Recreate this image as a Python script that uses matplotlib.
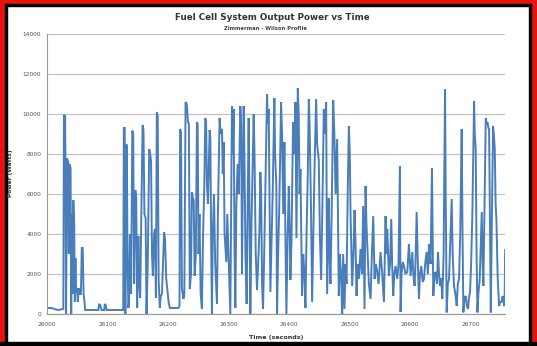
import matplotlib
matplotlib.use("Agg")
import matplotlib.pyplot as plt
from matplotlib.patches import Rectangle

# seconds after 26000 and fuel cell output power (W)
t_off = [0, 8, 12, 18, 27, 28, 30, 31.5, 33, 35, 36, 37, 39, 40, 41, 42, 43.5, 45, 46, 47,
         48, 49.5, 51, 52.5, 54, 56, 57.5, 59, 60.5, 62, 63, 85, 86, 88, 90, 94.5, 95.5, 97, 98.5,
         126, 127, 128.5, 129.5, 131, 132, 133, 134.5, 135.5, 137, 139, 141, 142.5, 144, 146,
         147.5, 149, 151, 152.5, 154, 158, 159.5, 161, 163, 164.5, 166.5, 169, 170.5, 172,
         173.5, 175, 177, 178.5, 180, 181.5, 183, 184.5, 186.5, 188, 190, 193.5, 195, 197, 199,
         201, 203, 217, 219, 220, 221.5, 223, 225.5, 227, 229, 231, 233, 234.5, 236, 238, 239.5,
         241, 242.5, 244, 246,
         247.8, 249, 250.5, 252, 254, 256, 258, 260, 261.6, 263, 264.3, 266, 268.8, 270, 271.5,
         272.6, 274, 276, 278, 280.9, 282.5, 285.3, 287, 289.2, 290.5, 292, 293.5, 296.4, 298,
         300, 303, 304.5, 305.7, 307, 308.5, 310, 311.3, 313, 315, 317, 319.5, 321, 322.3, 323.5,
         325.1, 326.5, 328, 330, 331.5, 333.3, 334.5, 336.1, 338, 340, 341.6, 343, 345, 347.1,
         349, 351, 352.6, 354, 355.5, 357.1, 359, 361, 363.7, 365, 366.4, 368, 369.2, 371, 373,
         375.8, 377, 379.1, 380.2, 382, 384, 386.9, 388.5, 390.5, 392.4, 394, 395.7, 397.5,
         399.6, 401, 402.3, 404, 406.7, 408.5, 410.6, 412.3, 414.5, 416, 417.5, 418.9, 420.5,
         421.6, 423.5, 425.5, 427.2, 429, 431, 432.7, 434, 436.5, 438.2, 440, 442, 444.8, 446.5,
         449.2, 451, 453.1, 455, 457.5, 459, 461.4, 463, 465.8, 467, 468.5, 470.5, 473, 475, 477,
         479.6, 481, 482.3, 484, 486, 487.9, 489.5, 491.7, 493.5, 495.1, 497,
         498.9, 500.5, 501.7, 504.4, 506.5, 508.3, 510, 511.6, 513.5, 515.5, 518.2, 520.5, 522.6,
         524.8, 526.5, 528, 529.3, 532, 534.8, 537, 539.2, 541.4, 543.5, 545.8, 548, 551.3, 554,
         556.9, 559.6, 561, 562.4, 565.1, 567, 569, 570.5, 572.3, 574, 576.2, 578.9, 581, 583.3,
         584.4, 586, 588, 590, 592.5, 595.5, 598.2, 601, 603.8, 605.5, 607.6, 609, 611, 613,
         614.8, 616.5, 618.7, 621, 623.1, 625, 627.5, 629.5, 631.4, 634, 636.3, 638.5, 640.5,
         642.4, 644.5, 646.3, 648, 649.6, 651.5, 653.4, 655.5, 657.9, 659, 660.6, 662.5, 664.5,
         666.5, 668.9, 670.5, 672.7, 675, 677.2, 679, 681, 683, 685.4, 686.5, 688.2, 690, 692.1,
         694, 695.9, 697.5, 699.2, 701, 703.1, 704.5, 705.9, 707, 708.6, 710, 711.4, 713, 715.2,
         717, 718.6, 720, 721.3, 723, 725.2, 726.5, 728, 729.5, 730.7, 732, 733.5, 735, 737.3,
         739, 740.1, 741.5, 742.8, 744, 745, 747.3, 749, 751.1, 753, 754.4, 755.5, 756.3, 757.2]

power_w = [300, 300, 250, 200, 250, 9950, 9900, 0, 7800, 7600, 3000, 7500, 7300, 0, 5000, 1000,
           5700, 4500, 600, 2800, 1100, 1300, 600, 1300, 1000, 1000, 3300, 3300, 1000, 600, 200,
           200, 500, 450, 200, 200, 500, 450, 200,
           200, 9300, 9300, 0, 8500, 8400, 2900, 300, 600, 4000, 1000, 9170, 9000, 1500, 6200,
           5800, 300, 3900, 1500, 800, 9450, 9200, 5000, 4800, 0, 2500, 8250, 8000, 7650,
           3000, 1900, 4000, 4250, 800, 10100, 9900, 1700, 300, 900, 1000, 4100, 3800, 1800, 1200,
           600, 300, 300, 400, 9250, 9100, 1300, 750, 1000, 10600, 10500, 9600, 9500, 1250, 2000,
           6100, 5800, 5700, 1900, 3000,
           9600, 9500, 3000, 5000, 1000, 250, 4000, 6500, 9800, 9600, 6500, 5500, 9200, 8800, 3000,
           0, 4000, 6000, 2500, 500, 5000, 9800, 9000, 9250, 7000, 8600, 4000, 2600, 5000,
           3000, 0, 6000, 10400, 8000, 10250, 3000, 300, 5500, 7500, 6000, 10400, 9500, 2000, 6000,
           10400, 7500, 3000, 500, 5000, 9800, 6000, 0, 4500, 7500, 10000, 8000, 3000, 1200,
           2500, 4000, 7100, 6000, 1500, 250, 3000, 6500, 11000, 9500, 10250, 5000, 1100, 3500, 6000,
           10800, 8000, 6400, 0, 3000, 5500, 10600, 9000, 5000, 8600, 4000, 0, 3500,
           6400, 4500, 1700, 3500, 9600, 8000, 10600, 3800, 11300, 10000, 6000, 7250, 3500,
           900, 3000, 2000, 300, 4000, 7000, 10750, 9500, 5000, 600, 3500, 7000, 10750, 8500,
           7700, 4000, 1700, 5000, 10250, 9000, 10600, 1000, 5800, 3000, 1500, 5000, 10700, 9000, 6000,
           8750, 4500, 900, 3000, 2000, 0, 3000, 250, 2500, 1500, 6000,
           9400, 8000, 5000, 1400, 3000, 5200, 3500, 900, 2500, 1750, 3250, 2000, 5400,
           250, 6400, 4500, 3500, 1500, 750, 3000, 4900, 1750, 2500, 2100, 1500, 3100, 2000,
           600, 4900, 3000, 4250, 1900, 2500, 4750, 2500, 900, 2000, 2400, 1750, 2500, 7400,
           100, 2000, 2600, 2400, 2000, 2100, 3500, 1900, 3100, 2000, 1400, 2500, 5100, 2500,
           750, 2000, 2400, 1600, 1750, 2500, 3100, 2000, 3500, 2500, 7300, 900, 2000,
           2100, 1500, 3100, 2000, 1400, 1800, 750, 3000, 11250, 6000, 80, 1500, 1750,
           3500, 5750, 3000, 1400, 1000, 400, 1500, 1750, 4000, 9250, 5000, 80, 800, 900,
           400, 250, 800, 1100, 2500, 5100, 8000, 10650, 9000, 8250, 3000, 80, 1000, 1750,
           3500, 5100, 2500, 1400, 5000, 9800, 9500, 9600, 9300, 9250, 5000, 80, 4000, 9400,
           8800, 8250, 5500, 4700, 3000, 1750, 400, 600, 600, 900, 750, 400, 500, 3200]

t_start = 26000
x_ticks = [26000, 26100, 26200, 26300, 26400, 26500, 26600, 26700]
y_ticks = [0, 2000, 4000, 6000, 8000, 10000, 12000, 14000]

time_s = [t_start + t for t in t_off]

W, H = 537, 346
fig = plt.figure(figsize=(W / 100, H / 100), dpi=100)
fig.patch.set_facecolor("white")

# red frame round the picture
red = "#e8130f"
fig.patches.append(Rectangle((0, 0), 5 / W, 1, transform=fig.transFigure, color=red, zorder=0))
fig.patches.append(Rectangle((1 - 6 / W, 0), 6 / W, 1, transform=fig.transFigure, color=red, zorder=0))
fig.patches.append(Rectangle((0, 1 - 4 / H), 1, 4 / H, transform=fig.transFigure, color=red, zorder=0))
fig.patches.append(Rectangle((5 / W, 1 - 6 / H), 1 - 11 / W, 2 / H, transform=fig.transFigure, color="black", zorder=0))
fig.patches.append(Rectangle((5 / W, 0), 2 / W, 1 - 4 / H, transform=fig.transFigure, color="black", zorder=0))
fig.patches.append(Rectangle((1 - 8 / W, 0), 2 / W, 1 - 4 / H, transform=fig.transFigure, color="black", zorder=0))
fig.patches.append(Rectangle((0, 0), 1, 4 / H, transform=fig.transFigure, color="black", zorder=0))

ax = fig.add_axes([47 / W, (H - 314) / H, 458 / W, 280 / H])
ax.plot(time_s, power_w, color="#4a7ebb", linewidth=1.4, solid_joinstyle="miter")

ax.set_xlim(26000, 26757)
ax.set_ylim(0, 14000)
ax.set_xticks(x_ticks)
ax.set_yticks(y_ticks)
ax.set_xticklabels([str(v) for v in x_ticks])
ax.set_yticklabels([str(v) for v in y_ticks])
ax.tick_params(axis="both", length=0, labelsize=4.2, colors="#555555")
ax.tick_params(axis="x", pad=6)
ax.tick_params(axis="y", pad=4)
ax.grid(axis="y", color="#c4c4c4", linewidth=0.9)
ax.set_axisbelow(True)
for s in ["top", "right"]:
    ax.spines[s].set_visible(False)
ax.spines["left"].set_color("#999999")
ax.spines["bottom"].set_color("#999999")
ax.spines["left"].set_linewidth(0.8)
ax.spines["bottom"].set_linewidth(0.8)

fig.text(272 / W, 1 - 18 / H, "Fuel Cell System Output Power vs Time", ha="center", va="center",
         fontsize=6.3, fontweight="bold", color="#333333")
fig.text(265 / W, 1 - 28 / H, "Zimmerman - Wilson Profile", ha="center", va="center",
         fontsize=3.8, fontweight="bold", color="#444444")
fig.text(276 / W, 1 - 338 / H, "Time (seconds)", ha="center", va="center",
         fontsize=4.6, fontweight="bold", color="#333333")
fig.text(11 / W, 1 - 173 / H, "Power (Watts)", ha="center", va="center", rotation=90,
         fontsize=4.2, fontweight="bold", color="#333333")

fig.savefig("out.png", dpi=100)
